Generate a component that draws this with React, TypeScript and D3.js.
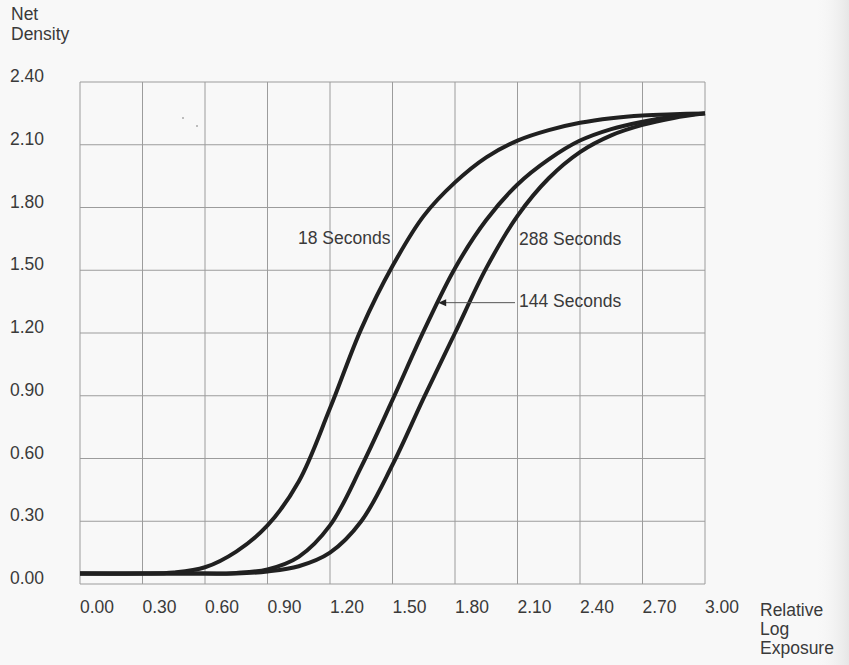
import React from "react";
import * as d3 from "d3";

const xTicks = [0, 0.3, 0.6, 0.9, 1.2, 1.5, 1.8, 2.1, 2.4, 2.7, 3.0];
const yTicks = [0, 0.3, 0.6, 0.9, 1.2, 1.5, 1.8, 2.1, 2.4];

const exposure18 = [0, 0.3, 0.45, 0.6, 0.75, 0.9, 1.05, 1.2, 1.35, 1.5, 1.65, 1.8, 1.95, 2.1, 2.25, 2.4, 2.55, 2.7, 2.85, 3.0];
const density18 = [0.05, 0.05, 0.055, 0.08, 0.155, 0.28, 0.49, 0.84, 1.22, 1.52, 1.76, 1.92, 2.04, 2.12, 2.17, 2.205, 2.227, 2.24, 2.246, 2.25];

const exposure144 = [0, 0.3, 0.6, 0.75, 0.9, 1.05, 1.2, 1.35, 1.5, 1.65, 1.8, 1.95, 2.1, 2.25, 2.4, 2.55, 2.7, 2.85, 3.0];
const density144 = [0.05, 0.05, 0.05, 0.053, 0.07, 0.13, 0.28, 0.56, 0.88, 1.21, 1.51, 1.74, 1.91, 2.03, 2.12, 2.175, 2.21, 2.235, 2.25];

const exposure288 = [0, 0.3, 0.6, 0.75, 0.9, 1.05, 1.2, 1.35, 1.5, 1.65, 1.8, 1.95, 2.1, 2.25, 2.4, 2.55, 2.7, 2.85, 3.0];
const density288 = [0.05, 0.05, 0.05, 0.05, 0.06, 0.085, 0.15, 0.3, 0.57, 0.89, 1.2, 1.51, 1.76, 1.94, 2.065, 2.145, 2.195, 2.228, 2.25];

const W = 849;
const H = 665;
const FONT = "'Liberation Sans', Arial, Helvetica, sans-serif";
const TEXT = "#3a3a3a";

export default function App() {
  const x = d3.scaleLinear().domain([0, 3]).range([80, 705]);
  const y = d3.scaleLinear().domain([0, 2.4]).range([584, 82]);

  const line = d3
    .line<[number, number]>()
    .x((d) => x(d[0]))
    .y((d) => y(d[1]))
    .curve(d3.curveCatmullRom.alpha(0.5));

  const series = [
    { xs: exposure18, ys: density18 },
    { xs: exposure144, ys: density144 },
    { xs: exposure288, ys: density288 },
  ];

  const arrowY = y(1.345);
  const arrowTipX = x(1.7) + 4;

  return (
    <svg
      width={W}
      height={H}
      style={{ position: "absolute", left: 0, top: 0, display: "block" }}
      fontFamily={FONT}
    >
      <defs>
        <linearGradient id="edge" x1="0" x2="1" y1="0" y2="0">
          <stop offset="0" stopColor="#f7f7f7" stopOpacity="0" />
          <stop offset="1" stopColor="#e6e6e6" stopOpacity="1" />
        </linearGradient>
      </defs>
      <rect x={0} y={0} width={W} height={H} fill="#f8f8f8" />
      <rect x={815} y={0} width={34} height={H} fill="url(#edge)" />

      {/* grid */}
      <g stroke="#9c9c9c" strokeWidth={1} fill="none">
        {xTicks.map((t) => (
          <line key={"vx" + t} x1={x(t)} x2={x(t)} y1={y(2.4)} y2={y(0)} />
        ))}
        {yTicks.map((t) => (
          <line key={"hy" + t} x1={x(0)} x2={x(3)} y1={y(t)} y2={y(t)} />
        ))}
      </g>

      {/* specks */}
      <circle cx={183} cy={118} r={1} fill="#aaa" />
      <circle cx={197} cy={126} r={1} fill="#aaa" />

      {/* curves */}
      <g fill="none" stroke="#202020" strokeWidth={4} strokeLinejoin="round" strokeLinecap="butt">
        {series.map((s, i) => (
          <path
            key={i}
            d={line(s.xs.map((v, j) => [v, s.ys[j]] as [number, number])) || ""}
          />
        ))}
      </g>

      {/* labels */}
      <g fill={TEXT} fontSize={17.5}>
        {yTicks.map((t) => (
          <text key={"yl" + t} x={10} y={y(t)}>
            {t.toFixed(2)}
          </text>
        ))}
        {xTicks.map((t) => (
          <text key={"xl" + t} x={x(t)} y={613}>
            {t.toFixed(2)}
          </text>
        ))}
        <text x={11} y={20}>Net</text>
        <text x={11} y={40}>Density</text>
        <text x={760} y={616}>Relative</text>
        <text x={760} y={635}>Log</text>
        <text x={760} y={654}>Exposure</text>
        <text x={298} y={244}>18 Seconds</text>
        <text x={519} y={245}>288 Seconds</text>
        <text x={519} y={307}>144 Seconds</text>
      </g>

      {/* arrow for 144 seconds */}
      <line x1={arrowTipX + 6} x2={515} y1={arrowY} y2={arrowY} stroke="#555" strokeWidth={1} />
      <path
        d={`M${arrowTipX},${arrowY} L${arrowTipX + 8},${arrowY - 3.5} L${arrowTipX + 8},${arrowY + 3.5} Z`}
        fill="#222"
      />
    </svg>
  );
}
